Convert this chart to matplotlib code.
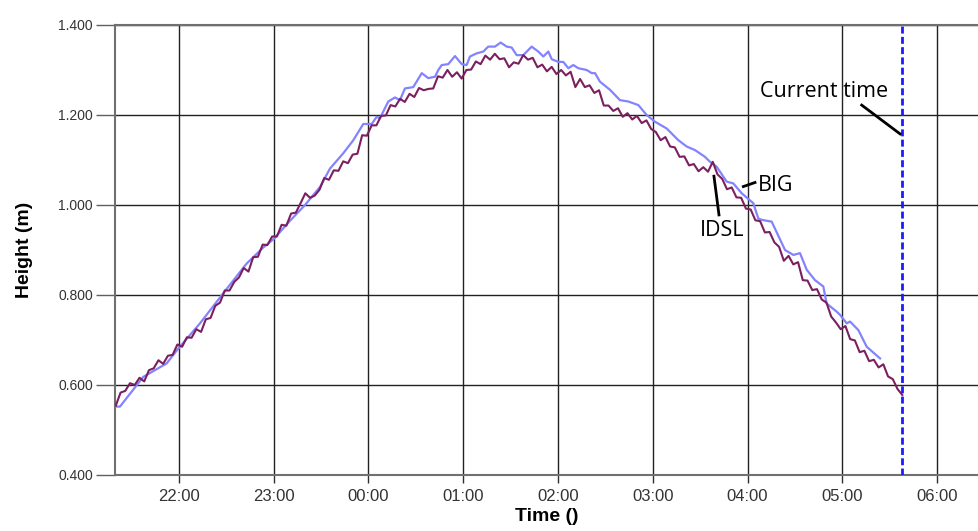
import numpy as np
import matplotlib
matplotlib.use("Agg")
import matplotlib.pyplot as plt

# ---------------- data ----------------
# time in decimal hours (values > 24 are after midnight)
idsl_start = 21 + 20 / 60.0      # 21:20
idsl_step_min = 3                 # sample interval, minutes
idsl_values = [
    0.554, 0.583, 0.587, 0.604, 0.600, 0.616, 0.608, 0.633, 0.637, 0.655,
    0.647, 0.665, 0.667, 0.690, 0.685, 0.706, 0.705, 0.724, 0.718, 0.746,
    0.749, 0.776, 0.783, 0.810, 0.810, 0.829, 0.839, 0.860, 0.852, 0.884,
    0.885, 0.912, 0.911, 0.930, 0.930, 0.956, 0.954, 0.981, 0.983, 1.004,
    1.026, 1.016, 1.021, 1.034, 1.060, 1.056, 1.077, 1.076, 1.097, 1.093,
    1.112, 1.114, 1.155, 1.154, 1.177, 1.177, 1.198, 1.199, 1.222, 1.219,
    1.236, 1.229, 1.247, 1.240, 1.260, 1.255, 1.258, 1.259, 1.286, 1.283,
    1.300, 1.285, 1.295, 1.281, 1.300, 1.301, 1.319, 1.313, 1.332, 1.323,
    1.336, 1.324, 1.326, 1.306, 1.317, 1.314, 1.333, 1.323, 1.327, 1.306,
    1.312, 1.297, 1.307, 1.291, 1.300, 1.288, 1.296, 1.262, 1.280, 1.262,
    1.266, 1.249, 1.255, 1.221, 1.221, 1.209, 1.215, 1.196, 1.204, 1.190,
    1.198, 1.182, 1.188, 1.169, 1.162, 1.144, 1.151, 1.130, 1.128, 1.107,
    1.108, 1.088, 1.091, 1.075, 1.084, 1.074, 1.096, 1.068, 1.058, 1.035,
    1.039, 1.017, 1.016, 0.992, 0.990, 0.966, 0.964, 0.939, 0.940, 0.917,
    0.907, 0.876, 0.887, 0.868, 0.873, 0.833, 0.832, 0.811, 0.813, 0.790,
    0.783, 0.752, 0.739, 0.724, 0.731, 0.702, 0.699, 0.673, 0.676, 0.653,
    0.656, 0.639, 0.646, 0.619, 0.613, 0.591, 0.578,
]
idsl_times = idsl_start + np.arange(len(idsl_values)) * idsl_step_min / 60.0

big_times = [
    21.325, 21.377, 21.623, 21.870, 21.993, 22.222, 22.468, 22.715, 22.887,
    23.003, 23.172, 23.330, 23.488, 23.594, 23.734, 23.840, 23.945, 24.034,
    24.087, 24.121, 24.209, 24.280, 24.332, 24.385, 24.473, 24.562, 24.631,
    24.702, 24.737, 24.773, 24.842, 24.913, 24.984, 25.036, 25.071, 25.142,
    25.212, 25.264, 25.335, 25.395, 25.459, 25.511, 25.564, 25.634, 25.722,
    25.792, 25.845, 25.898, 25.934, 26.003, 26.056, 26.109, 26.162, 26.214,
    26.303, 26.356, 26.391, 26.443, 26.549, 26.654, 26.742, 26.848, 26.936,
    27.024, 27.147, 27.270, 27.358, 27.446, 27.551, 27.604, 27.675, 27.780,
    27.850, 27.939, 28.061, 28.114, 28.150, 28.255, 28.396, 28.484, 28.554,
    28.625, 28.712, 28.800, 28.835, 28.941, 28.976, 29.047, 29.082, 29.170,
    29.258, 29.399,
]
big_values = [
    0.552, 0.552, 0.618, 0.648, 0.681, 0.737, 0.804, 0.870, 0.905,
    0.925, 0.965, 1.000, 1.040, 1.081, 1.115, 1.144, 1.180, 1.180,
    1.196, 1.193, 1.230, 1.239, 1.233, 1.259, 1.262, 1.293, 1.282,
    1.285, 1.300, 1.311, 1.313, 1.331, 1.313, 1.311, 1.330, 1.337,
    1.341, 1.352, 1.352, 1.361, 1.352, 1.350, 1.333, 1.333, 1.352,
    1.341, 1.330, 1.341, 1.324, 1.318, 1.318, 1.304, 1.311, 1.304,
    1.300, 1.293, 1.293, 1.274, 1.256, 1.233, 1.230, 1.222, 1.200,
    1.185, 1.170, 1.144, 1.130, 1.122, 1.107, 1.096, 1.085, 1.052,
    1.048, 1.026, 1.004, 0.970, 0.967, 0.963, 0.900, 0.889, 0.893,
    0.856, 0.833, 0.819, 0.781, 0.763, 0.756, 0.737, 0.741, 0.722,
    0.685, 0.659,
]

current_time = 29.63          # 05:37-05:38
tick_hours = [22, 23, 24, 25, 26, 27, 28, 29, 30]
tick_labels = ["%02d:00" % (h % 24) for h in tick_hours]
y_ticks = [0.4, 0.6, 0.8, 1.0, 1.2, 1.4]

# ---------------- figure ----------------
W, H = 979, 531
fig = plt.figure(figsize=(W / 100, H / 100), dpi=100)
ax = fig.add_axes([115 / W, 1 - 475 / H, 1 - 115 / W, 450 / H])

ax.plot(big_times, big_values, color="#8383ff", lw=1.6, zorder=3)
ax.plot(idsl_times, idsl_values, color="#7b1f5e", lw=1.5, zorder=4)
ax.axvline(current_time, color="#1c1cff", lw=2.0, ls=(0, (2.5, 1.2)), zorder=5)

ax.set_xlim(21.325, 30.443)
ax.set_ylim(0.4, 1.4)
ax.set_xticks(tick_hours)
ax.set_xticklabels(tick_labels)
ax.set_yticks(y_ticks)
ax.set_yticklabels(["%.3f" % v for v in y_ticks])

ax.grid(True, color="#222222", lw=1.0, zorder=1)
ax.set_axisbelow(True)

for s in ["left", "bottom", "top"]:
    ax.spines[s].set_color("#707070")
    ax.spines[s].set_linewidth(1.5)
ax.spines["right"].set_visible(False)

ax.tick_params(axis="y", direction="out", length=14, width=1.0, color="#606060",
               labelsize=10, labelcolor="#333333", pad=2)
ax.tick_params(axis="x", direction="out", length=6, width=1.0, color="#303030",
               labelsize=12, labelcolor="#333333", pad=4)
for lab in ax.get_xticklabels() + ax.get_yticklabels():
    lab.set_fontfamily(["Liberation Sans", "DejaVu Sans"])

ax.set_xlabel("Time ()", fontsize=14, fontweight="bold",
              family=["Liberation Sans", "DejaVu Sans"], labelpad=3)
ax.set_ylabel("Height (m)", fontsize=14, fontweight="bold",
              family=["Liberation Sans", "DejaVu Sans"], labelpad=18)

# ---------------- annotations ----------------
afont = dict(fontsize=15.5, family=["Open Sans", "DejaVu Sans"], color="black",
             va="baseline", ha="left", zorder=6)
ax.text(28.132, 1.240, "Current time", **afont)
ax.text(28.114, 1.032, "BIG", **afont)
ax.text(27.499, 0.931, "IDSL", **afont)
ax.plot([29.205, 29.610], [1.222, 1.158], color="black", lw=2, zorder=6)
ax.plot([27.956, 28.079], [1.041, 1.050], color="black", lw=2, zorder=6)
ax.plot([27.646, 27.699], [1.064, 0.978], color="black", lw=2, zorder=6)

fig.savefig("out.png", dpi=100)
